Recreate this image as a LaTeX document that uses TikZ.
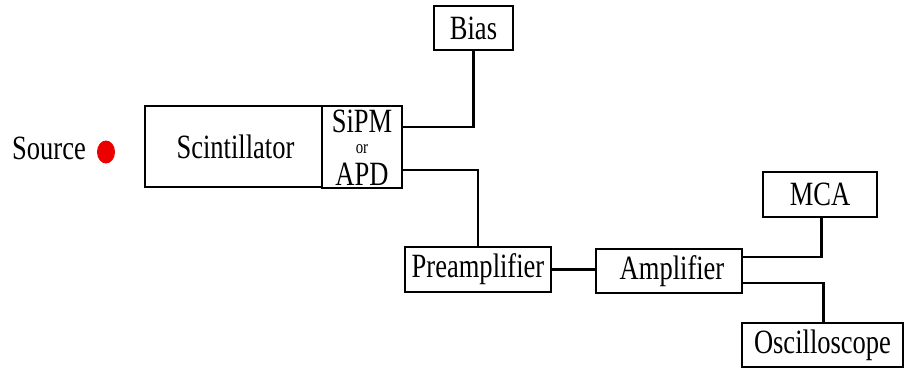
\documentclass[tikz,border=0pt]{standalone}
\usepackage{fontspec}
\setmainfont[FakeStretch=0.78]{Liberation Serif}
\begin{document}
\begin{tikzpicture}[x=1pt,y=-1pt,
  box/.style={draw=black,line width=2.4pt,inner sep=0pt,
    font=\fontsize{34}{40}\selectfont},
  wire/.style={draw=black,line width=2.4pt},
  lbl/.style={inner sep=0pt,font=\fontsize{34}{40}\selectfont}]
\useasboundingbox (0,0) rectangle (904,370);
\node[lbl] (src) at (49,148) {Source};
\fill[red!92!black] (106,152) ellipse [x radius=9pt, y radius=11.5pt];
\node[box,minimum width=177pt,minimum height=81pt] (scint) at (233.5,146.5) {\hspace*{4pt}Scintillator};
\node[box,minimum width=80pt,minimum height=82pt] (sipm) at (362,147) {};
\node[lbl] (t1) at (362,121) {SiPM};
\node[lbl,font=\fontsize{19}{23}\selectfont] (t2) at (362,149.5) {or};
\node[lbl] (t3) at (362,174) {APD};
\node[box,minimum width=79pt,minimum height=44pt] (bias) at (473.5,28) {Bias};
\node[box,minimum width=146pt,minimum height=45pt] (pre) at (478,269.5) {Preamplifier};
\node[box,minimum width=146pt,minimum height=44pt] (amp) at (669,271) {\hspace*{6pt}Amplifier};
\node[box,minimum width=114pt,minimum height=45pt] (mca) at (820,194.5) {MCA};
\node[box,minimum width=161pt,minimum height=44pt] (osc) at (822.5,345) {Oscilloscope};
\draw[wire] ([yshift=20pt]sipm.east) -| (bias.south);
\draw[wire] ([yshift=-23pt]sipm.east) -| (pre.north);
\draw[wire] (pre.east) -- (pre.east -| amp.west);
\draw[wire] ([yshift=14pt]amp.east) -| ([xshift=1.5pt]mca.south);
\draw[wire] ([yshift=-12pt]amp.east) -| ([xshift=1pt]osc.north);
\end{tikzpicture}
\end{document}
